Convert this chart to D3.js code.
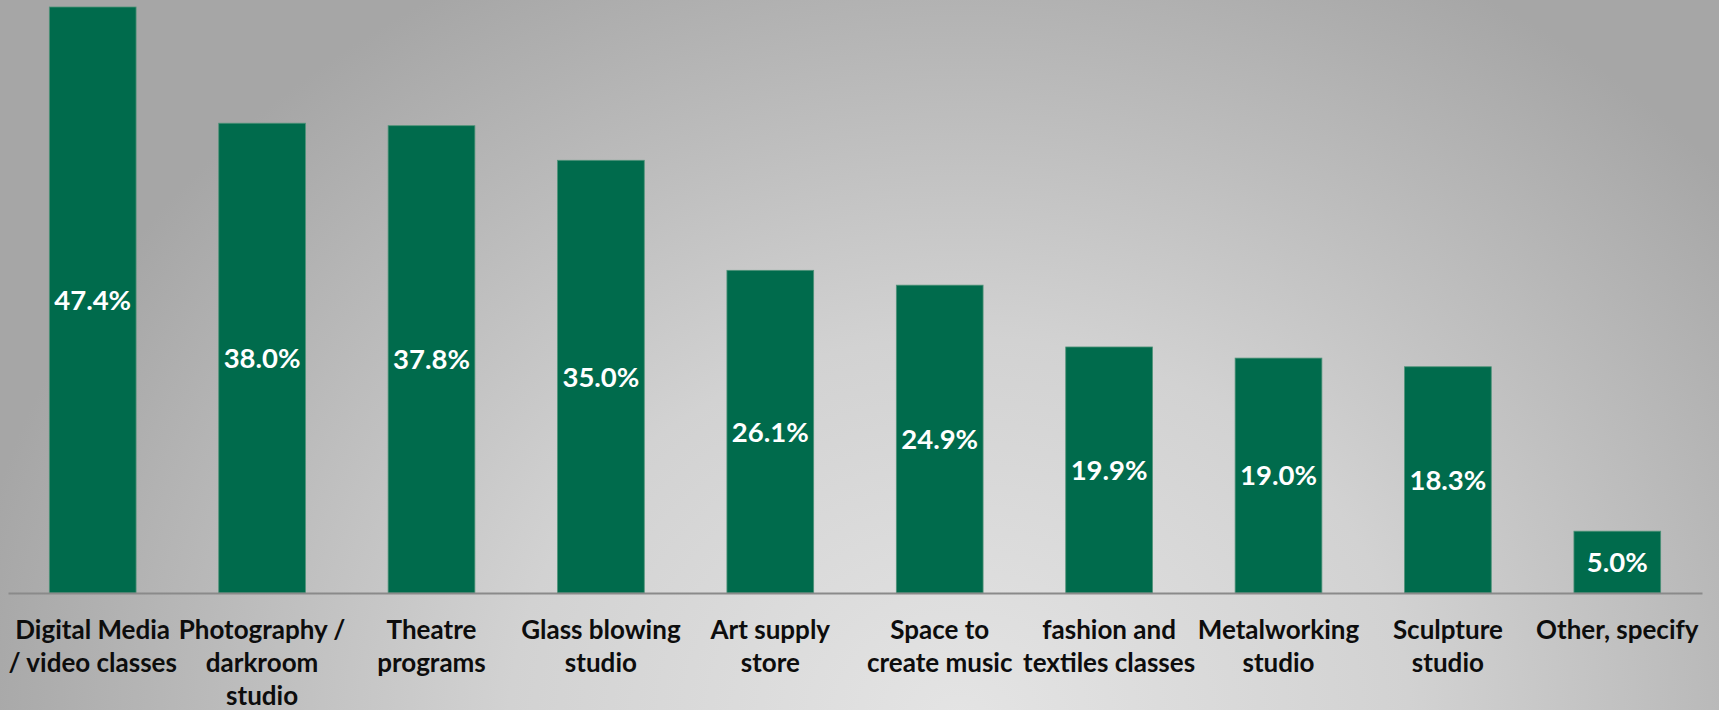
<!DOCTYPE html>
<html>
<head>
<meta charset="utf-8">
<script src="https://cdn.jsdelivr.net/npm/d3@7/dist/d3.min.js"></script>
<style>
  html, body { margin: 0; padding: 0; overflow: hidden; }
  svg { display: block; }
</style>
</head>
<body>
<svg id="chart" width="1719" height="710"></svg>
<script>
const categories = [
  "Digital Media\n/ video classes",
  "Photography /\ndarkroom\nstudio",
  "Theatre\nprograms",
  "Glass blowing\nstudio",
  "Art supply\nstore",
  "Space to\ncreate music",
  "fashion and\ntextiles classes",
  "Metalworking\nstudio",
  "Sculpture\nstudio",
  "Other, specify"
];
const values = [47.4, 38.0, 37.8, 35.0, 26.1, 24.9, 19.9, 19.0, 18.3, 5.0];

const W = 1719, H = 710;
const svg = d3.select("#chart");
const defs = svg.append("defs");
const grad = defs.append("radialGradient")
  .attr("id", "bg")
  .attr("gradientUnits", "userSpaceOnUse")
  .attr("cx", 960).attr("cy", 720)
  .attr("r", 1000)
  .attr("gradientTransform", "translate(960,720) scale(1,0.85) translate(-960,-720)");
grad.append("stop").attr("offset", "0").attr("stop-color", "#e4e4e4");
grad.append("stop").attr("offset", "0.45").attr("stop-color", "#d2d2d2");
grad.append("stop").attr("offset", "1").attr("stop-color", "#a6a6a6");
svg.append("rect").attr("width", W).attr("height", H).attr("fill", "url(#bg)");

const baseY = 593;
const x = d3.scaleBand()
  .domain(categories)
  .range([8, 1702])
  .paddingInner(0.488)
  .paddingOuter(0.244);
const y = d3.scaleLinear().domain([0, 47.4]).range([baseY, 7]);

const font = "Lato, 'Open Sans', sans-serif";

const g = svg.append("g");
g.selectAll("rect.bar")
  .data(values)
  .join("rect")
  .attr("class", "bar")
  .attr("x", (d, i) => x(categories[i]))
  .attr("y", d => y(d))
  .attr("width", x.bandwidth())
  .attr("height", d => y(0) - y(d))
  .attr("fill", "#006b4c")
  .attr("stroke", "#4f9379")
  .attr("stroke-width", 0.8);

g.selectAll("text.val")
  .data(values)
  .join("text")
  .attr("class", "val")
  .attr("x", (d, i) => x(categories[i]) + x.bandwidth() / 2)
  .attr("y", d => (y(d) + y(0)) / 2)
  .attr("dy", "0.36em")
  .attr("text-anchor", "middle")
  .attr("fill", "#ffffff")
  .attr("font-family", font)
  .attr("font-weight", "bold")
  .attr("font-size", 27.5)
  .text(d => d.toFixed(1) + "%");

// axis
const axis = d3.axisBottom(x).tickSize(0).tickFormat("");
const ax = svg.append("g").attr("transform", `translate(0,${baseY})`).call(axis);
ax.select(".domain").attr("stroke", "#8a8a8a").attr("stroke-width", 2);

// category labels
const lab = svg.append("g");
categories.forEach(c => {
  const t = lab.append("text")
    .attr("x", x(c) + x.bandwidth() / 2)
    .attr("y", 630)
    .attr("text-anchor", "middle")
    .attr("fill", "#0d0d0d")
    .attr("font-family", font)
    .attr("font-weight", "bold")
    .attr("font-size", 26);
  c.split("\n").forEach((line, i) => {
    t.append("tspan")
      .attr("x", x(c) + x.bandwidth() / 2)
      .attr("y", 630 + i * 33)
      .attr("dy", "0.36em")
      .text(line);
  });
});
</script>
</body>
</html>
